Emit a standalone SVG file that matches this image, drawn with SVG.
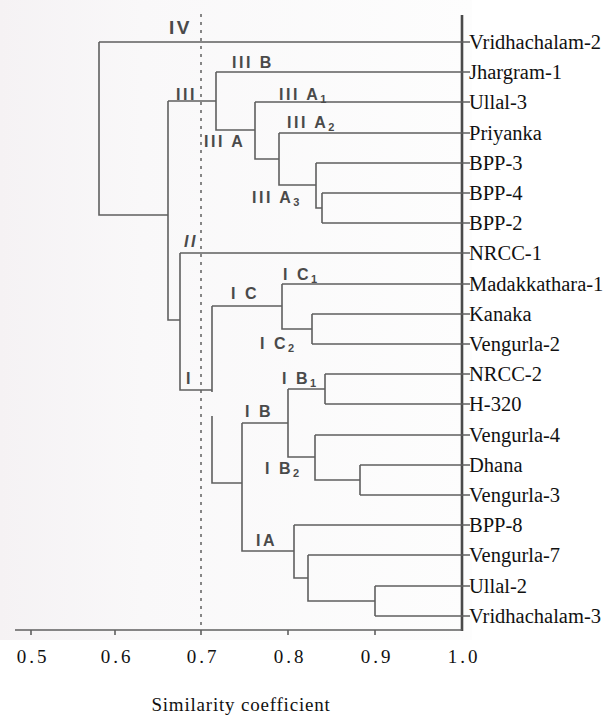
<svg xmlns="http://www.w3.org/2000/svg" width="612" height="718" viewBox="0 0 612 718">
<defs>
<linearGradient id="bg" x1="0" y1="0" x2="1" y2="0">
<stop offset="0" stop-color="#f5f2f4"/>
<stop offset="0.3" stop-color="#f9f8f9"/>
<stop offset="1" stop-color="#fdfdfd"/>
</linearGradient>
<style>
.br{stroke:#5f5f5f;stroke-width:1.6;fill:none}
.ax{stroke:#4a4a4a;stroke-width:2.6;fill:none}
.dot{stroke:#6a6a6a;stroke-width:1.6;stroke-dasharray:3 5;fill:none}
.lf{font-family:"Liberation Serif","Times New Roman",serif;font-size:20.5px;fill:#111}
.tk{font-family:"Liberation Serif","Times New Roman",serif;font-size:19px;fill:#111;letter-spacing:3px;text-anchor:middle}
.ttl{font-family:"Liberation Serif","Times New Roman",serif;font-size:19px;fill:#111;letter-spacing:0.8px;text-anchor:middle}
.cl{font-family:"Liberation Sans",Arial,sans-serif;font-weight:bold;font-size:16px;fill:#4a4a4a;letter-spacing:2.5px}
.sb{font-size:11px;letter-spacing:0}
</style>
</defs>
<rect x="0" y="0" width="612" height="718" fill="#ffffff"/>
<rect x="0" y="0" width="472" height="640" fill="url(#bg)"/>

<g id="axis">
<line class="dot" x1="201" y1="14" x2="201" y2="630"/>
<line class="ax" x1="462" y1="15" x2="462" y2="631"/>
<line class="br" x1="15" y1="630" x2="462" y2="630"/>
<path class="br" d="M31 630v5M115 630v5M201 630v5M288 630v5M375 630v5"/>
<text class="tk" x="33" y="663">0.5</text>
<text class="tk" x="117" y="663">0.6</text>
<text class="tk" x="203" y="663">0.7</text>
<text class="tk" x="290" y="663">0.8</text>
<text class="tk" x="377" y="663">0.9</text>
<text class="tk" x="464" y="663">1.0</text>
<text class="ttl" x="241" y="711">Similarity coefficient</text>
</g>

<g id="connectors">
<path class="br" d="M99 42H470M99 42V215H168"/>
<path class="br" d="M168 101V320H180M168 101H216"/>
<path class="br" d="M216 72V130H255M216 72H470"/>
<path class="br" d="M255 102V159H279M255 102H470"/>
<path class="br" d="M279 133V185H316M279 133H470"/>
<path class="br" d="M316 163V208H322M316 163H470"/>
<path class="br" d="M322 193V223M322 193H470M322 223H470"/>
<path class="br" d="M180 253V390H212M180 253H470"/>
<path class="br" d="M212 306V392M212 306H282"/>
<path class="br" d="M282 284V329H312M282 284H470"/>
<path class="br" d="M312 314V344M312 314H470M312 344H470"/>
<path class="br" d="M212 416V483H242"/>
<path class="br" d="M242 423V551H294M242 423H288"/>
<path class="br" d="M288 389V457H315M288 389H325"/>
<path class="br" d="M325 374V404M325 374H470M325 404H470"/>
<path class="br" d="M315 435V480H360M315 435H470"/>
<path class="br" d="M360 465V495M360 465H470M360 495H470"/>
<path class="br" d="M294 525V578H308M294 525H470"/>
<path class="br" d="M308 555V601H375M308 555H470"/>
<path class="br" d="M375 586V616M375 586H470M375 616H470"/>
</g>

<g id="leaves">
<text class="lf" x="469" y="49">Vridhachalam-2</text>
<text class="lf" x="469" y="79">Jhargram-1</text>
<text class="lf" x="469" y="109">Ullal-3</text>
<text class="lf" x="469" y="140">Priyanka</text>
<text class="lf" x="469" y="170">BPP-3</text>
<text class="lf" x="469" y="200">BPP-4</text>
<text class="lf" x="469" y="230">BPP-2</text>
<text class="lf" x="469" y="260">NRCC-1</text>
<text class="lf" x="469" y="291">Madakkathara-1</text>
<text class="lf" x="469" y="321">Kanaka</text>
<text class="lf" x="469" y="351">Vengurla-2</text>
<text class="lf" x="469" y="381">NRCC-2</text>
<text class="lf" x="469" y="411">H-320</text>
<text class="lf" x="469" y="442">Vengurla-4</text>
<text class="lf" x="469" y="472">Dhana</text>
<text class="lf" x="469" y="502">Vengurla-3</text>
<text class="lf" x="469" y="532">BPP-8</text>
<text class="lf" x="469" y="562">Vengurla-7</text>
<text class="lf" x="469" y="593">Ullal-2</text>
<text class="lf" x="469" y="623">Vridhachalam-3</text>
</g>

<g id="cluster-labels">
<text class="cl" x="169" y="34" style="font-size:19px">IV</text>
<text class="cl" x="232" y="68">III B</text>
<text class="cl" x="176" y="100">III</text>
<text class="cl" x="279" y="100">III A<tspan class="sb" dy="3">1</tspan></text>
<text class="cl" x="287" y="128">III A<tspan class="sb" dy="3">2</tspan></text>
<text class="cl" x="204" y="147">III A</text>
<text class="cl" x="252" y="203">III A<tspan class="sb" dy="3">3</tspan></text>
<text class="cl" x="184" y="247" style="font-style:italic">II</text>
<text class="cl" x="231" y="299">I C</text>
<text class="cl" x="283" y="280">I C<tspan class="sb" dy="3">1</tspan></text>
<text class="cl" x="260" y="349">I C<tspan class="sb" dy="3">2</tspan></text>
<text class="cl" x="186" y="384">I</text>
<text class="cl" x="282" y="384">I B<tspan class="sb" dy="3">1</tspan></text>
<text class="cl" x="245" y="417">I B</text>
<text class="cl" x="265" y="474">I B<tspan class="sb" dy="3">2</tspan></text>
<text class="cl" x="256" y="546">IA</text>
</g>
</svg>
